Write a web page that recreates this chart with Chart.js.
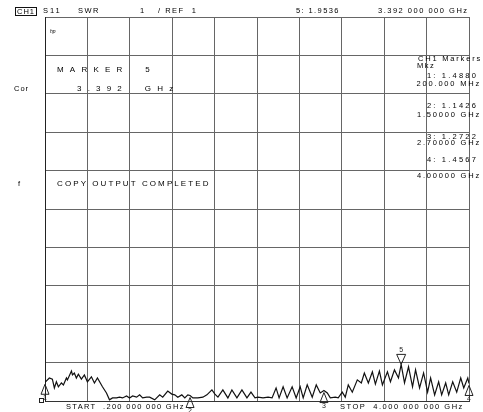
<!DOCTYPE html>
<html><head><meta charset="utf-8">
<script src="https://cdn.jsdelivr.net/npm/chart.js@4"></script>
<style>
html,body{margin:0;padding:0;background:#fff;}
#wrap{position:relative;width:483px;height:412px;overflow:hidden;background:#fff;}
canvas{position:absolute;left:0;top:0;}
.t{position:absolute;font-family:"Liberation Sans",Arial,sans-serif;font-size:7.5px;line-height:8px;color:#000;white-space:pre;}
.box{border:1px solid #111;padding:0 1px;line-height:7px;}
</style></head><body>
<div id="wrap"><canvas id="c" width="483" height="412"></canvas>
<div class="t box" style="left:15px;top:7px;letter-spacing:1px;">CH1</div>
<div class="t" style="left:43px;top:7px;letter-spacing:2px;">S11</div>
<div class="t" style="left:78px;top:7px;letter-spacing:1.5px;">SWR</div>
<div class="t" style="left:140px;top:7px;">1</div>
<div class="t" style="left:158px;top:7px;letter-spacing:1.5px;">/ REF  1</div>
<div class="t" style="left:296px;top:7px;letter-spacing:1.4px;">5: 1.9536</div>
<div class="t" style="left:378px;top:7px;letter-spacing:1.5px;">3.392 000 000 GHz</div>
<div class="t" style="left:50px;top:27px;font-size:5px;font-style:italic;">hp</div>
<div class="t" style="left:57px;top:66px;font-size:8px;letter-spacing:6.2px;">MARKER  5</div>
<div class="t" style="left:77px;top:85px;font-size:8px;letter-spacing:6.2px;">3.392  GHz</div>
<div class="t" style="left:14px;top:85px;letter-spacing:1px;">Cor</div>
<div class="t" style="left:18px;top:180px;">f</div>
<div class="t" style="left:57px;top:180px;font-size:8px;letter-spacing:2.1px;">COPY OUTPUT COMPLETED</div>
<div class="t" style="right:1px;top:55px;letter-spacing:1.8px;">CH1 Markers</div>
<div class="t" style="left:417px;top:62px;letter-spacing:1.5px;">Mkz</div>
<div class="t" style="right:5px;top:72px;letter-spacing:2.2px;">1: 1.4880</div>
<div class="t" style="right:2px;top:80px;letter-spacing:1.8px;">200.000 MHz</div>
<div class="t" style="right:5px;top:102px;letter-spacing:2.2px;">2: 1.1426</div>
<div class="t" style="right:2px;top:111px;letter-spacing:1.8px;">1.50000 GHz</div>
<div class="t" style="right:5px;top:133px;letter-spacing:2.2px;">3: 1.2722</div>
<div class="t" style="right:2px;top:139px;letter-spacing:1.8px;">2.70000 GHz</div>
<div class="t" style="right:5px;top:156px;letter-spacing:2.2px;">4: 1.4567</div>
<div class="t" style="right:2px;top:172px;letter-spacing:1.8px;">4.00000 GHz</div>
<div class="t" style="left:66px;top:403px;letter-spacing:1.3px;">START  .200 000 000 GHz</div>
<div class="t" style="left:340px;top:403px;letter-spacing:1.5px;">STOP  4.000 000 000 GHz</div>
</div>
<script>
const freqGHz = [
0.200,0.239,0.266,0.284,0.302,0.320,0.347,0.365,0.392,0.401,
0.437,0.446,0.463,0.481,0.499,0.526,0.553,0.580,0.616,0.643,
0.670,0.715,0.751,0.778,0.805,0.841,0.868,0.895,0.931,0.958,
0.985,1.021,1.048,1.075,1.111,1.138,1.183,1.228,1.255,1.300,
1.336,1.363,1.390,1.426,1.453,1.480,1.500,1.525,1.570,1.615,
1.651,1.696,1.723,1.750,1.794,1.839,1.875,1.920,1.965,2.010,
2.046,2.082,2.109,2.154,2.199,2.235,2.271,2.298,2.334,2.370,
2.415,2.451,2.487,2.514,2.550,2.595,2.631,2.667,2.700,2.730,
2.757,2.802,2.828,2.864,2.891,2.918,2.954,2.999,3.035,3.062,
3.098,3.134,3.161,3.197,3.224,3.269,3.296,3.332,3.368,3.392,
3.422,3.458,3.494,3.521,3.557,3.593,3.629,3.656,3.692,3.728,
3.755,3.791,3.818,3.854,3.890,3.926,3.953,3.989,4.000];
const swrValues = [
1.488,1.60,1.57,1.34,1.50,1.37,1.47,1.42,1.60,1.55,
1.78,1.68,1.73,1.60,1.70,1.57,1.68,1.50,1.63,1.47,
1.60,1.37,1.21,1.03,1.08,1.08,1.10,1.08,1.13,1.08,
1.13,1.10,1.16,1.08,1.10,1.10,1.03,1.16,1.10,1.26,
1.18,1.16,1.10,1.16,1.08,1.16,1.143,1.08,1.08,1.10,
1.16,1.29,1.18,1.10,1.29,1.08,1.29,1.08,1.29,1.08,
1.23,1.08,1.10,1.08,1.10,1.08,1.34,1.08,1.37,1.08,
1.37,1.08,1.37,1.08,1.42,1.10,1.42,1.21,1.272,1.21,
1.08,1.10,1.08,1.23,1.10,1.42,1.23,1.55,1.47,1.73,
1.47,1.76,1.44,1.78,1.42,1.76,1.50,1.81,1.60,1.954,
1.47,1.89,1.37,1.81,1.34,1.73,1.23,1.60,1.16,1.50,
1.16,1.47,1.16,1.50,1.23,1.60,1.34,1.60,1.457];
const markerLabels = ['1','2','3','4','5'];
const markerFreq = [0.2, 1.5, 2.7, 4.0, 3.392];
const markerSwr = [1.4880, 1.1426, 1.2722, 1.4567, 1.9536];
const xGridTicks = [0.2,0.58,0.96,1.34,1.72,2.1,2.48,2.86,3.24,3.62,4.0];
const yGridTicks = [1,2,3,4,5,6,7,8,9,10,11];

const gridCol = '#666';

const markerPlugin = {
  id: 'markers',
  afterDatasetsDraw(chart) {
    const ctx = chart.ctx, xs = chart.scales.x, ys = chart.scales.y;
    ctx.save();
    ctx.strokeStyle = '#222';
    ctx.fillStyle = '#222';
    ctx.lineWidth = 1;
    ctx.font = '7px "Liberation Sans", Arial, sans-serif';
    ctx.textAlign = 'center';
    ctx.textBaseline = 'middle';
    for (let i = 0; i < markerFreq.length; i++) {
      const px = xs.getPixelForValue(markerFreq[i]);
      const py = ys.getPixelForValue(markerSwr[i]);
      ctx.beginPath();
      if (markerLabels[i] === '5') {
        ctx.moveTo(px, py);
        ctx.lineTo(px - 4.5, py - 10);
        ctx.lineTo(px + 4.5, py - 10);
        ctx.closePath();
        ctx.stroke();
        ctx.fillText(markerLabels[i], px, py - 14);
      } else {
        const ap = py + 2;
        ctx.moveTo(px, ap);
        ctx.lineTo(px - 4, ap + 10);
        ctx.lineTo(px + 4, ap + 10);
        ctx.closePath();
        ctx.stroke();
        ctx.fillText(markerLabels[i], px, ap + 14);
      }
    }
    const ry = ys.getPixelForValue(1);
    ctx.strokeRect(xs.left - 5.5, ry - 2.5, 4, 4);
    ctx.restore();
  }
};

new Chart(document.getElementById('c'), {
  type: 'line',
  data: {
    datasets: [{
      data: freqGHz.map((f, i) => ({x: f, y: swrValues[i]})),
      borderColor: '#111',
      borderWidth: 1.2,
      pointRadius: 0,
      tension: 0,
      fill: false
    }]
  },
  options: {
    responsive: false,
    animation: false,
    devicePixelRatio: 1,
    layout: {padding: {left: 45, right: 14, top: 17, bottom: 11}},
    plugins: {legend: {display: false}, tooltip: {enabled: false}, title: {display: false}},
    scales: {
      x: {
        type: 'linear', min: 0.2, max: 4.0,
        afterBuildTicks: s => { s.ticks = xGridTicks.map(v => ({value: v})); },
        ticks: {display: false},
        grid: {color: gridCol, lineWidth: 1, drawTicks: false},
        border: {display: true, color: '#333', width: 1}
      },
      y: {
        type: 'linear', min: 1, max: 11,
        afterBuildTicks: s => { s.ticks = yGridTicks.map(v => ({value: v})); },
        ticks: {display: false},
        grid: {color: gridCol, lineWidth: 1, drawTicks: false},
        border: {display: true, color: '#222', width: 1}
      }
    }
  },
  plugins: [markerPlugin]
});
</script>
</body></html>
